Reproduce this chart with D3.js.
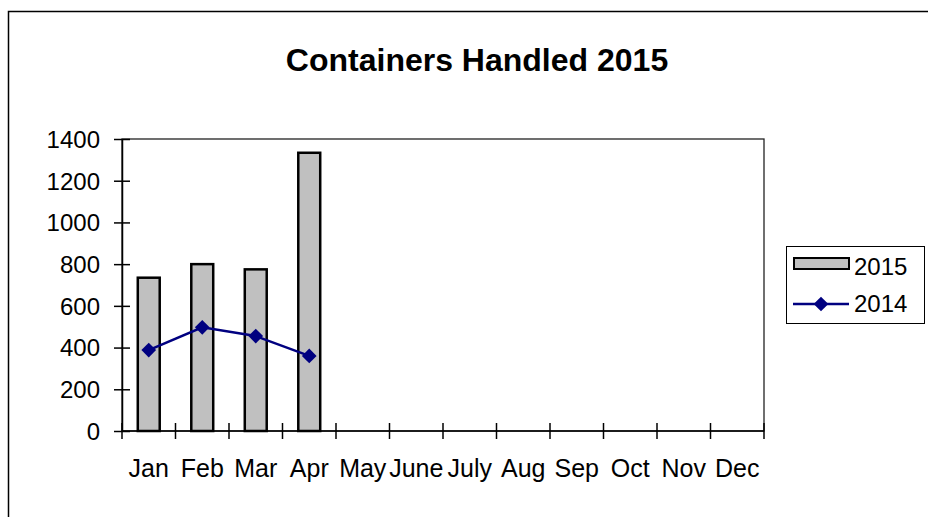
<!DOCTYPE html>
<meta charset='utf-8'>
<style>
  body { margin: 0; background: #fff; }
  text { font-family: Arial, 'Liberation Sans', sans-serif; fill: #000; }
</style>
<svg width='928' height='517'></svg>
<script src='https://cdn.jsdelivr.net/npm/d3@7'></script>
<script>
  // data
  var months = ['Jan', 'Feb', 'Mar', 'Apr', 'May', 'June', 'July', 'Aug', 'Sep', 'Oct', 'Nov', 'Dec'];
  var values2015 = [735, 800, 775, 1334];
  var values2014 = [388, 497, 455, 360];
  var yTicks = [0, 200, 400, 600, 800, 1000, 1200, 1400];

  var svg = d3.select('svg');

  var plotL = 122, plotR = 764, plotT = 139, plotB = 431;

  var x = d3.scaleBand().domain(months).range([plotL, plotR]).padding(0);
  var y = d3.scaleLinear().domain([0, 1400]).range([plotB, plotT]);

  // outer chart frame (runs past the window on right and bottom)
  svg.append('rect')
      .attr('x', 8.5).attr('y', 11.5)
      .attr('width', 1000).attr('height', 600)
      .attr('fill', 'none').attr('stroke', '#000').attr('stroke-width', 1.5);

  svg.append('text')
      .attr('x', 477).attr('y', 71)
      .attr('text-anchor', 'middle')
      .style('font-size', '32px').style('font-weight', 'bold')
      .text('Containers Handled 2015');

  // plot area border
  svg.append('rect')
      .attr('x', plotL).attr('y', plotT)
      .attr('width', plotR - plotL).attr('height', plotB - plotT)
      .attr('fill', 'none').attr('stroke', '#222').attr('stroke-width', 1.3);

  // bars
  var bw = x.step() * 0.41;
  svg.append('g')
    .selectAll('rect')
    .data(values2015)
    .enter().append('rect')
      .attr('x', (d, i) => x(months[i]) + x.step() / 2 - bw / 2)
      .attr('y', d => y(d))
      .attr('width', bw)
      .attr('height', d => plotB - y(d))
      .attr('fill', '#c0c0c0')
      .attr('stroke', '#000')
      .attr('stroke-width', 2.5);

  // y axis
  var yAxis = svg.append('g')
      .attr('transform', 'translate(' + plotL + ',0)')
      .call(d3.axisLeft(y).tickValues(yTicks).tickFormat(d3.format('d'))
        .tickSizeOuter(0).tickSizeInner(8).tickPadding(14));
  yAxis.select('.domain').attr('stroke', '#000').attr('stroke-width', 1.5);
  yAxis.selectAll('.tick line').attr('x1', 8).attr('x2', -8).attr('stroke-width', 1.5);
  yAxis.selectAll('.tick text').attr('font-family', null).style('font-size', '24px').attr('dy', '0.35em');

  // x axis
  var xg = svg.append('g');
  xg.append('line')
      .attr('x1', plotL).attr('x2', plotR)
      .attr('y1', plotB).attr('y2', plotB)
      .attr('stroke', '#000').attr('stroke-width', 1.5);
  xg.selectAll('line.tk')
    .data(d3.range(months.length + 1))
    .enter().append('line')
      .attr('class', 'tk')
      .attr('x1', i => plotL + i * x.step())
      .attr('x2', i => plotL + i * x.step())
      .attr('y1', plotB - 8).attr('y2', plotB + 8)
      .attr('stroke', '#000').attr('stroke-width', 1.5);
  xg.selectAll('text')
    .data(months)
    .enter().append('text')
      .attr('x', d => x(d) + x.step() / 2)
      .attr('y', 477)
      .attr('text-anchor', 'middle')
      .style('font-size', '25px')
      .text(d => d);

  // 2014 line
  var line = d3.line()
      .x((d, i) => x(months[i]) + x.step() / 2)
      .y(d => y(d));
  svg.append('path')
      .datum(values2014)
      .attr('d', line)
      .attr('fill', 'none')
      .attr('stroke', '#000080')
      .attr('stroke-width', 2.5);

  var diamond = d3.symbol(d3.symbolSquare, 108);
  svg.append('g')
    .selectAll('path')
    .data(values2014)
    .enter().append('path')
      .attr('d', diamond)
      .attr('transform', (d, i) => 'translate(' + (x(months[i]) + x.step() / 2) + ',' + y(d) + ') rotate(45)')
      .attr('fill', '#000080');

  // legend
  var lg = svg.append('g');
  lg.append('rect')
      .attr('x', 786.5).attr('y', 246.5).attr('width', 138).attr('height', 77)
      .attr('fill', '#fff').attr('stroke', '#000').attr('stroke-width', 1);
  lg.append('rect')
      .attr('x', 794).attr('y', 258).attr('width', 55).attr('height', 11)
      .attr('fill', '#c0c0c0').attr('stroke', '#000').attr('stroke-width', 2);
  lg.append('text').attr('x', 854).attr('y', 275).style('font-size', '24px').text('2015');
  lg.append('line')
      .attr('x1', 793).attr('x2', 849).attr('y1', 304).attr('y2', 304)
      .attr('stroke', '#000080').attr('stroke-width', 2.5);
  lg.append('path')
      .attr('d', diamond)
      .attr('transform', 'translate(821,304) rotate(45)')
      .attr('fill', '#000080');
  lg.append('text').attr('x', 854).attr('y', 312).style('font-size', '24px').text('2014');
</script>
